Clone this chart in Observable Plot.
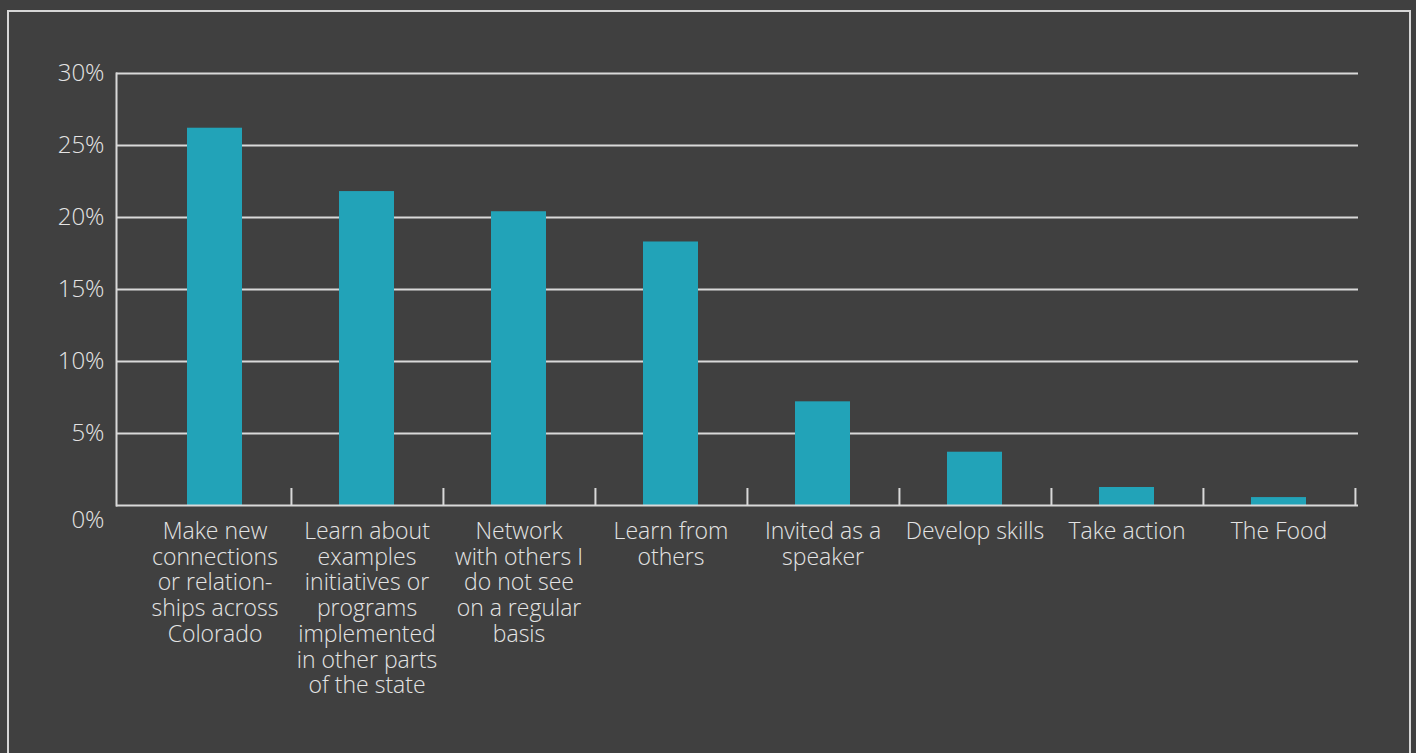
<!DOCTYPE html>
<html>
<head>
<meta charset="utf-8">
<script src="https://cdn.jsdelivr.net/npm/d3@7"></script>
<script src="https://cdn.jsdelivr.net/npm/@observablehq/plot@0.6"></script>
<style>
  html, body { margin: 0; padding: 0; background: #404040; overflow: hidden; }
  #wrap { position: relative; width: 1416px; height: 753px; }
  #border { position: absolute; left: 7px; top: 10px; width: 1404px; height: 800px; border: 2px solid #d6d6d6; box-sizing: border-box; }
  #chart { position: absolute; left: 0; top: 0; }
</style>
</head>
<body>
<div id="wrap"><div id="border"></div><div id="chart"></div></div>
<script>
const categories = [
  "Make new connections or relationships across Colorado",
  "Learn about examples initiatives or programs implemented in other parts of the state",
  "Network with others I do not see on a regular basis",
  "Learn from others",
  "Invited as a speaker",
  "Develop skills",
  "Take action",
  "The Food"
];
const labels = [
  "Make new\nconnections\nor relation-\nships across\nColorado",
  "Learn about\nexamples\ninitiatives or\nprograms\nimplemented\nin other parts\nof the state",
  "Network\nwith others I\ndo not see\non a regular\nbasis",
  "Learn from\nothers",
  "Invited as a\nspeaker",
  "Develop skills",
  "Take action",
  "The Food"
];
const values = [26.2, 21.8, 20.4, 18.3, 7.2, 3.7, 1.25, 0.55];
const yTicks = [0, 5, 10, 15, 20, 25, 30];

const data = categories.map((c, i) => ({cat: c, label: labels[i], value: values[i]}));

const W = 1416, H = 753;
const mL = 116, mR = 58, mT = 73, mB = 248, inset = 19;
const step = (W - mL - mR - inset) / categories.length;
const plotH = H - mT - mB;
const lineColor = "#d9d9d9";
const textColor = "#e4e4e4";
const font = "'Open Sans', 'Segoe UI', sans-serif";

const chart = Plot.plot({
  width: W, height: H,
  marginLeft: mL, marginRight: mR, marginTop: mT, marginBottom: mB,
  style: {background: "transparent", color: textColor, fontFamily: font, fontWeight: 300},
  x: {domain: categories, insetLeft: inset, paddingInner: 0.64, paddingOuter: 0.32, axis: null},
  y: {domain: [0, 30], axis: null},
  marks: [
    Plot.ruleY(yTicks.filter(v => v > 0), {y: d => d, stroke: lineColor, strokeWidth: 2}),
    Plot.frame({anchor: "left", stroke: lineColor, strokeWidth: 2}),
    Plot.barY(data, {x: "cat", y: "value", fill: "#22a3b8"}),
    Plot.ruleY([0], {stroke: lineColor, strokeWidth: 2}),
    Plot.ruleX(categories, {x: d => d, dx: step / 2, insetTop: plotH - 17, stroke: lineColor, strokeWidth: 2}),
    Plot.text(yTicks.filter(v => v > 0), {y: d => d, text: d => d + "%", frameAnchor: "left", textAnchor: "end", dx: -12, fontSize: 24, fill: textColor}),
    Plot.text(yTicks.filter(v => v === 0), {y: d => d, text: d => d + "%", frameAnchor: "left", textAnchor: "end", dx: -12, dy: 15, fontSize: 24, fill: textColor}),
    Plot.text(data, {x: "cat", text: "label", frameAnchor: "bottom", lineAnchor: "top", dy: 15, fontSize: 23, lineHeight: 1.12, fill: textColor})
  ]
});
document.getElementById("chart").appendChild(chart);
</script>
</body>
</html>
